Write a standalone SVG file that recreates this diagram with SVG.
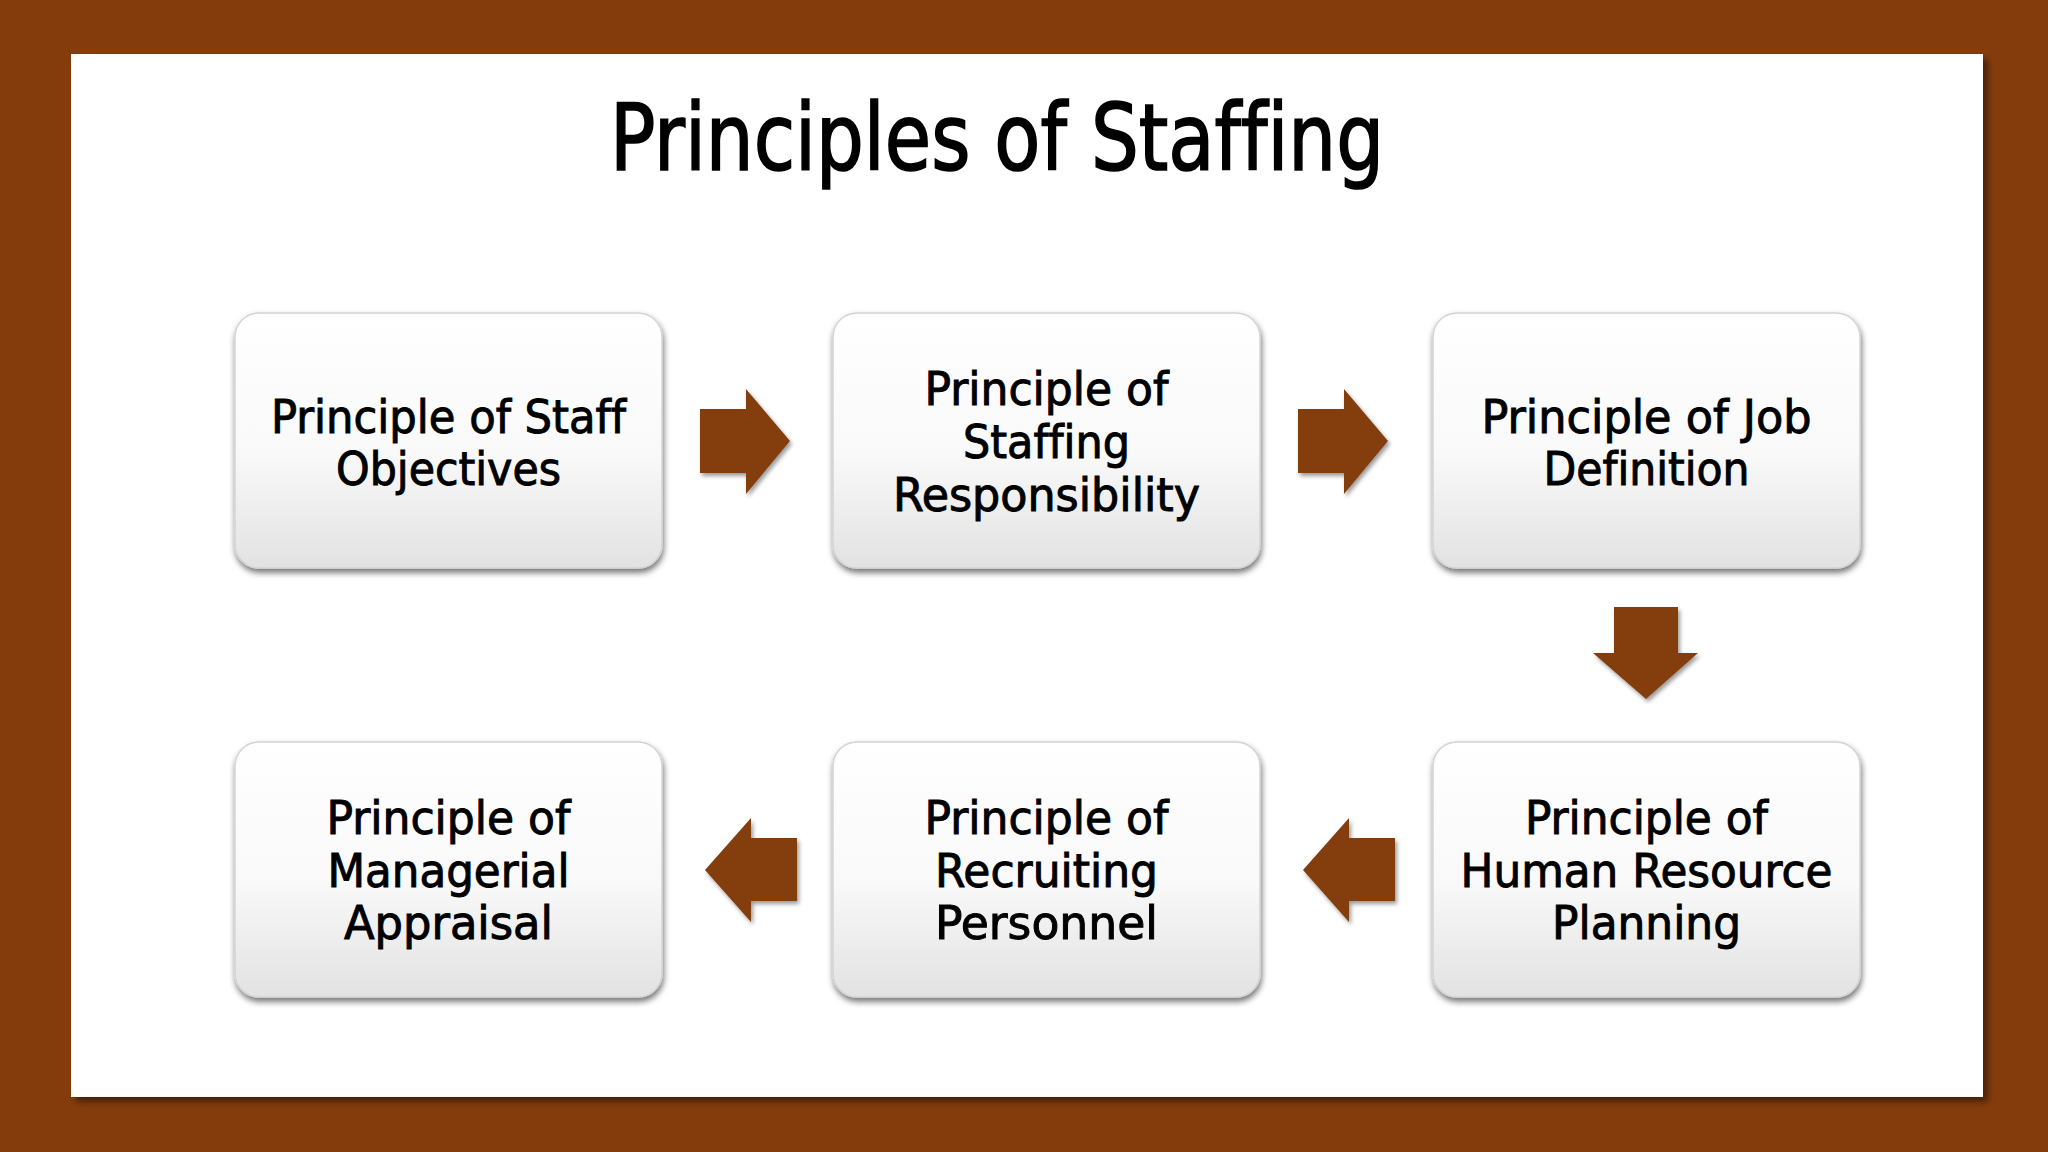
<svg xmlns="http://www.w3.org/2000/svg" width="2048" height="1152" viewBox="0 0 2048 1152">
  <defs>
    <linearGradient id="boxGrad" x1="0" y1="0" x2="0" y2="1">
      <stop offset="0" stop-color="#ffffff"/>
      <stop offset="0.55" stop-color="#f9f9f9"/>
      <stop offset="1" stop-color="#e2e2e2"/>
    </linearGradient>
    <filter id="boxShadow" x="-10%" y="-10%" width="120%" height="125%">
      <feGaussianBlur in="SourceAlpha" stdDeviation="3"/>
      <feOffset dx="1" dy="4" result="b"/>
      <feComponentTransfer in="b" result="s"><feFuncA type="linear" slope="0.55"/></feComponentTransfer>
      <feMerge><feMergeNode in="s"/><feMergeNode in="SourceGraphic"/></feMerge>
    </filter>
    <filter id="arrowShadow" x="-20%" y="-20%" width="150%" height="150%">
      <feGaussianBlur in="SourceAlpha" stdDeviation="2"/>
      <feOffset dx="2" dy="3" result="b"/>
      <feComponentTransfer in="b" result="s"><feFuncA type="linear" slope="0.4"/></feComponentTransfer>
      <feMerge><feMergeNode in="s"/><feMergeNode in="SourceGraphic"/></feMerge>
    </filter>
    <filter id="panelShadow" x="-5%" y="-5%" width="110%" height="110%">
      <feGaussianBlur in="SourceAlpha" stdDeviation="3"/>
      <feOffset dx="5" dy="5" result="b"/>
      <feComponentTransfer in="b" result="s"><feFuncA type="linear" slope="0.45"/></feComponentTransfer>
      <feMerge><feMergeNode in="s"/><feMergeNode in="SourceGraphic"/></feMerge>
    </filter>
  </defs>
  <style>
    .box { fill: url(#boxGrad); stroke: #d4d4d4; stroke-width: 1.5; filter: url(#boxShadow); }
    .lbl { font-family: "Liberation Sans Narrow", "DejaVu Sans Condensed", "Liberation Sans", sans-serif; font-size: 46px; fill: #000; stroke: #000; stroke-width: 0.9; text-anchor: middle; font-variant-ligatures: none; font-feature-settings: "liga" 0, "clig" 0; }
    .title { font-family: "Liberation Sans Narrow", "DejaVu Sans Condensed", "Liberation Sans", sans-serif; font-size: 92px; fill: #000; stroke: #000; stroke-width: 1.6; text-anchor: middle; font-variant-ligatures: none; font-feature-settings: "liga" 0, "clig" 0; }
    .arrow { fill: #843C0C; filter: url(#arrowShadow); }
  </style>

  <rect x="0" y="0" width="2048" height="1152" fill="#843C0C"/>
  <rect x="71" y="54" width="1912" height="1043" fill="#ffffff" filter="url(#panelShadow)"/>

  <text class="title" x="997" y="170" textLength="774" lengthAdjust="spacingAndGlyphs">Principles of Staffing</text>

  <g id="node-staff-objectives">
    <rect class="box" x="235" y="313" width="427" height="255" rx="24"/>
    <text class="lbl" x="448.5" y="433" textLength="355" lengthAdjust="spacingAndGlyphs">Principle of Staff</text>
    <text class="lbl" x="448.5" y="485" textLength="225" lengthAdjust="spacingAndGlyphs">Objectives</text>
  </g>
  <g id="node-staffing-responsibility">
    <rect class="box" x="833" y="313" width="427" height="255" rx="24"/>
    <text class="lbl" x="1046.5" y="405" textLength="244" lengthAdjust="spacingAndGlyphs">Principle of</text>
    <text class="lbl" x="1046.5" y="458" textLength="167" lengthAdjust="spacingAndGlyphs">Staffing</text>
    <text class="lbl" x="1046.5" y="511" textLength="307" lengthAdjust="spacingAndGlyphs">Responsibility</text>
  </g>
  <g id="node-job-definition">
    <rect class="box" x="1433" y="313" width="427" height="255" rx="24"/>
    <text class="lbl" x="1646.5" y="433" textLength="330" lengthAdjust="spacingAndGlyphs">Principle of Job</text>
    <text class="lbl" x="1646.5" y="485" textLength="206" lengthAdjust="spacingAndGlyphs">Definition</text>
  </g>
  <g id="node-hr-planning">
    <rect class="box" x="1433" y="742" width="427" height="255" rx="24"/>
    <text class="lbl" x="1646.5" y="834" textLength="243" lengthAdjust="spacingAndGlyphs">Principle of</text>
    <text class="lbl" x="1646.5" y="887" textLength="372" lengthAdjust="spacingAndGlyphs">Human Resource</text>
    <text class="lbl" x="1646.5" y="939" textLength="189" lengthAdjust="spacingAndGlyphs">Planning</text>
  </g>
  <g id="node-recruiting-personnel">
    <rect class="box" x="833" y="742" width="427" height="255" rx="24"/>
    <text class="lbl" x="1046.5" y="834" textLength="244" lengthAdjust="spacingAndGlyphs">Principle of</text>
    <text class="lbl" x="1046.5" y="887" textLength="223" lengthAdjust="spacingAndGlyphs">Recruiting</text>
    <text class="lbl" x="1046.5" y="939" textLength="223" lengthAdjust="spacingAndGlyphs">Personnel</text>
  </g>
  <g id="node-managerial-appraisal">
    <rect class="box" x="235" y="742" width="427" height="255" rx="24"/>
    <text class="lbl" x="448.5" y="834" textLength="244" lengthAdjust="spacingAndGlyphs">Principle of</text>
    <text class="lbl" x="448.5" y="887" textLength="242" lengthAdjust="spacingAndGlyphs">Managerial</text>
    <text class="lbl" x="448.5" y="939" textLength="209" lengthAdjust="spacingAndGlyphs">Appraisal</text>
  </g>

  <g id="connectors">
    <polygon class="arrow" points="700,409 746,409 746,389 790,441 746,494 746,473 700,473"/>
    <polygon class="arrow" points="1298,409 1344,409 1344,389 1388,441 1344,494 1344,473 1298,473"/>
    <polygon class="arrow" points="1614,607 1678,607 1678,653 1698,653 1646,699 1593,653 1614,653"/>
    <polygon class="arrow" points="1395,838 1349,838 1349,818 1303,870 1349,922 1349,901 1395,901"/>
    <polygon class="arrow" points="797,838 751,838 751,818 705,870 751,922 751,901 797,901"/>
  </g>
</svg>
